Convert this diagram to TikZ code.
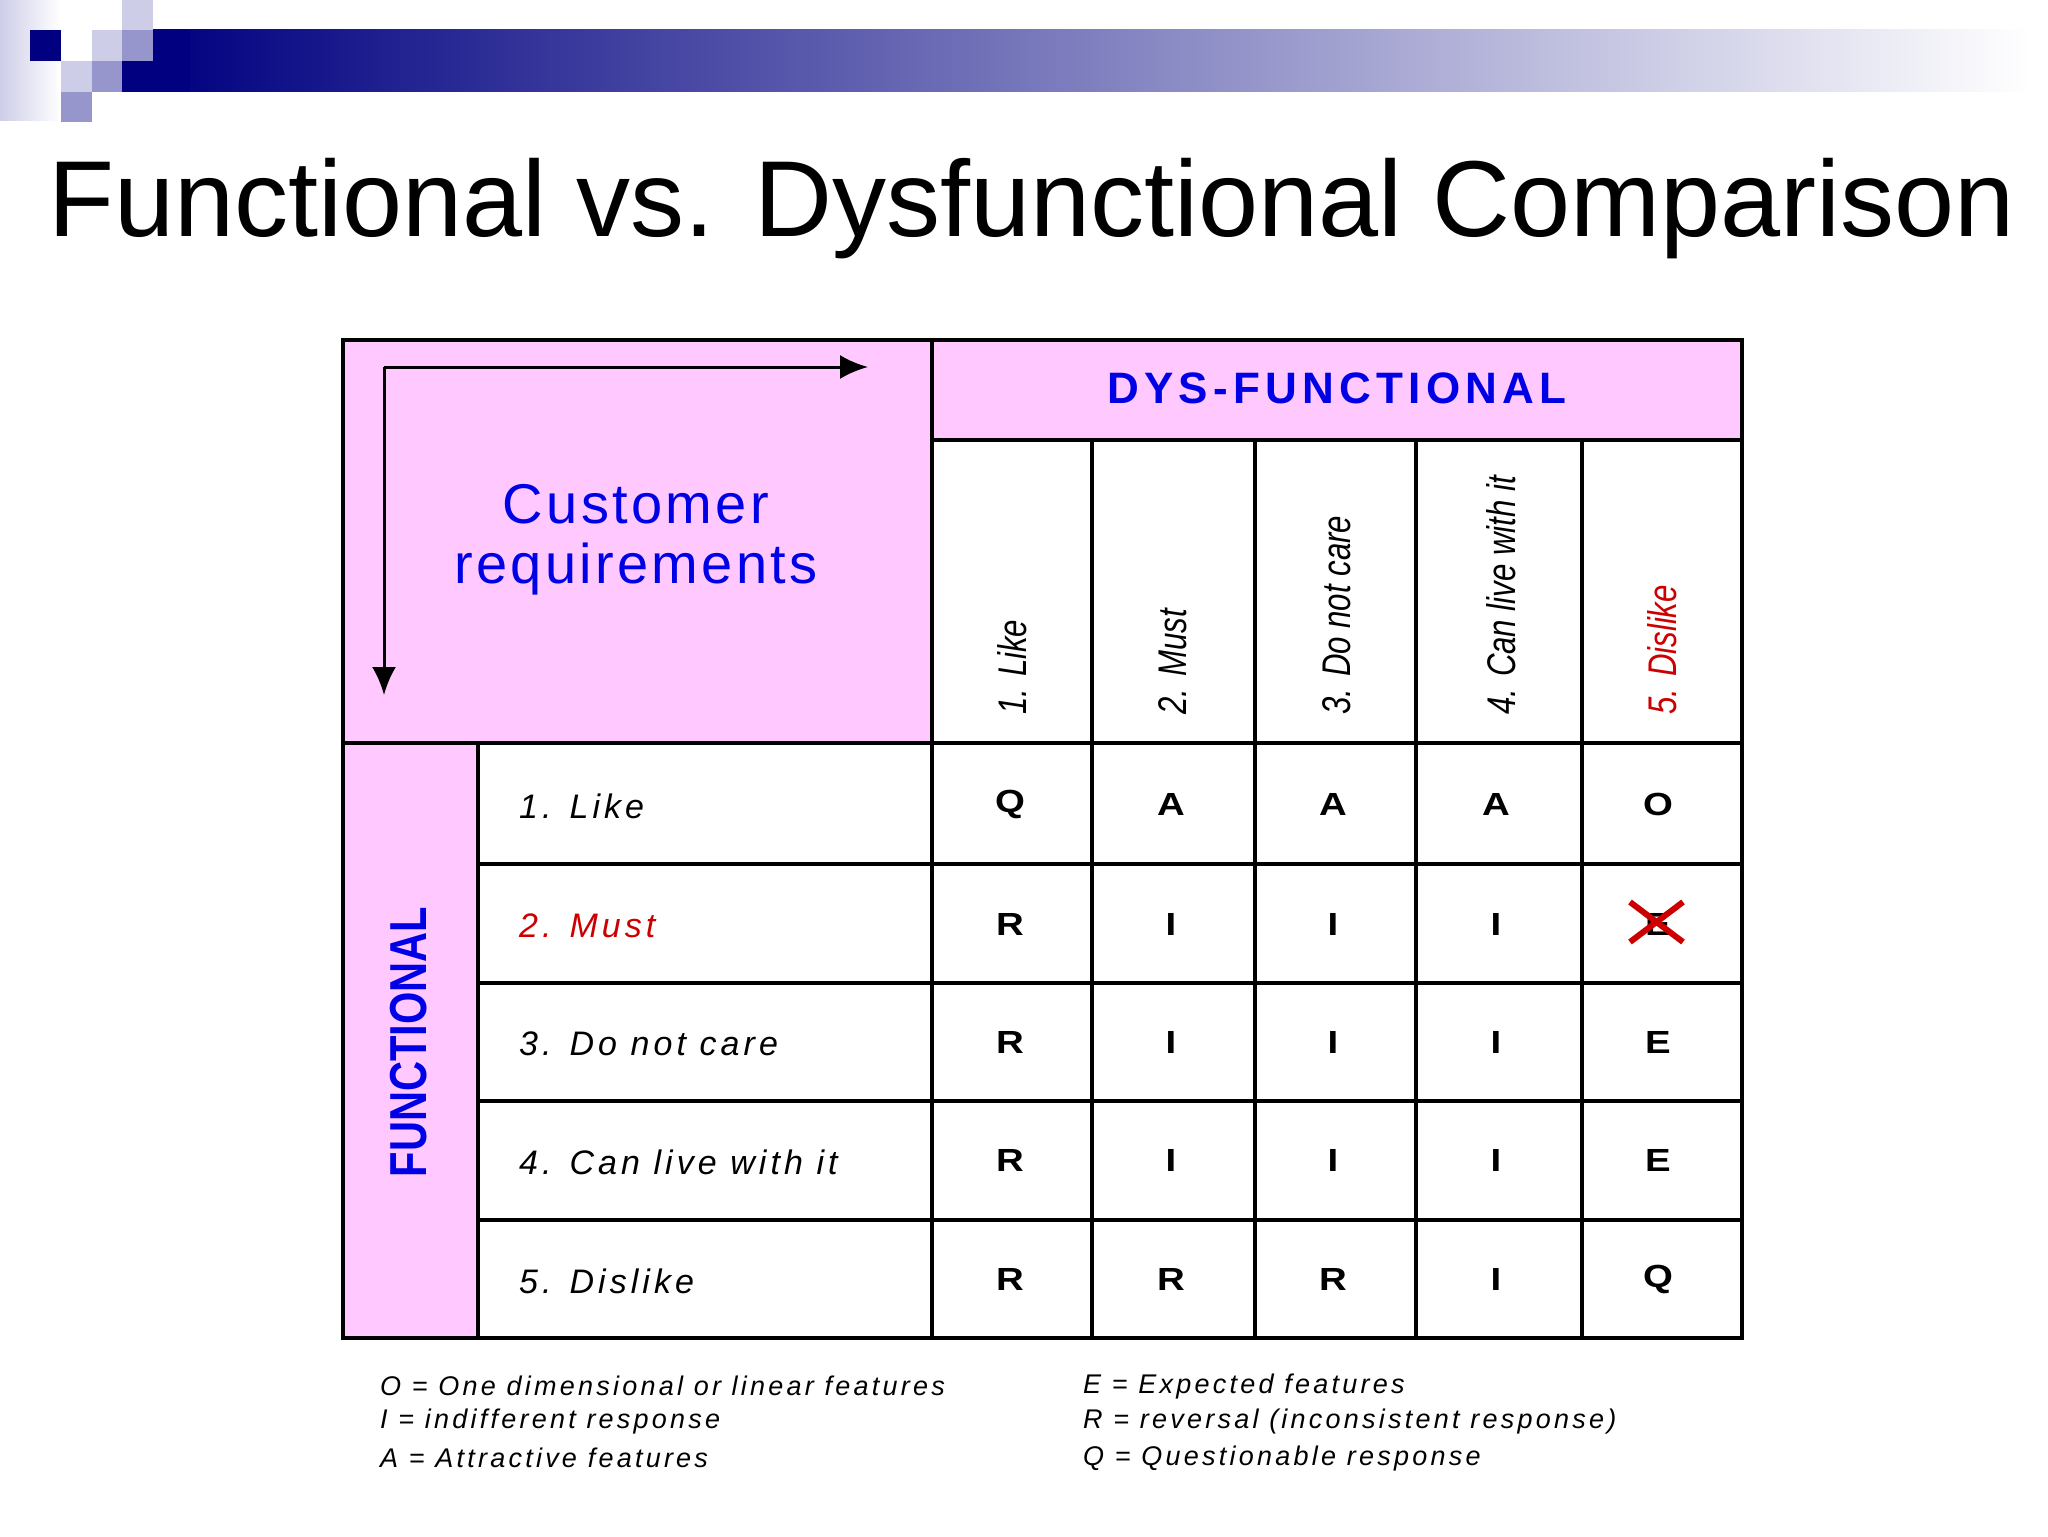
\documentclass[tikz,border=0pt]{standalone}
\usepackage{fontspec}
\setmainfont{Liberation Sans}
\usetikzlibrary{arrows.meta}
\begin{document}
\begin{tikzpicture}[x=0.5pt,y=-0.5pt,
  grid/.style={line width=2pt,draw=black},
  cell/.style={font=\fontsize{16}{16}\selectfont\bfseries,xscale=1.2},
  rowlab/.style={anchor=west,font=\fontsize{17}{17}\selectfont\itshape},
  colhd/.style={rotate=90,anchor=west,font=\fontsize{20}{20}\selectfont\itshape,xscale=0.78},
  legend/.style={anchor=west,font=\fontsize{13.5}{13.5}\selectfont\itshape}]
\definecolor{pinkbg}{RGB}{255,200,255}
\definecolor{navy}{RGB}{0,0,128}
\definecolor{midv}{RGB}{150,150,205}
\definecolor{lightv}{RGB}{205,205,232}
\definecolor{req}{RGB}{0,0,230}
\definecolor{redt}{RGB}{204,0,0}
\useasboundingbox (0,0) rectangle (2048,1536);
% logo
\shade[left color=lightv,right color=white] (0,0) rectangle (60,120);
\shade[left color=navy,right color=white] (153,30) rectangle (2030,92);
\fill[navy] (30,30) rectangle (61,61);
\fill[lightv] (122,0) rectangle (153,30);
\fill[lightv] (92,30) rectangle (122,61);
\fill[midv] (122,30) rectangle (153,61);
\fill[lightv] (61,61) rectangle (92,92);
\fill[midv] (92,61) rectangle (122,92);
\fill[navy] (122,61) rectangle (153,92);
\fill[navy] (153,30) rectangle (190,92);
\fill[midv] (61,92) rectangle (92,122);
% title
\node[anchor=base west,inner sep=0,font=\fontsize{54}{54}\selectfont] (title) at (48,236) {Functional vs. Dysfunctional Comparison};
% pink areas
\fill[pinkbg] (343,340) rectangle (932,743);
\fill[pinkbg] (932,340) rectangle (1742,440);
\fill[pinkbg] (343,743) rectangle (478,1338);
% grid
\draw[grid] (343,340) rectangle (1742,1338);
\draw[grid] (932,340) -- (932,1338);
\draw[grid] (932,440) -- (1742,440);
\draw[grid] (343,743) -- (1742,743);
\draw[grid] (478,743) -- (478,1338);
\foreach \x in {1092,1255,1416,1582} \draw[grid] (\x,440) -- (\x,1338);
\foreach \y in {864,983,1101,1220} \draw[grid] (478,\y) -- (1742,\y);
% arrows
\coordinate (ac) at (384,367);
\coordinate (ad) at (384,695);
\coordinate (ar) at (868,367);
\draw[line width=1.5pt,-{Latex[length=14pt,width=12pt]}] (ac) -- (ar);
\draw[line width=1.5pt,-{Latex[length=14pt,width=12pt]}] (ac) -- (ad);
% headers
\node[font=\fontsize{28}{28}\selectfont,text=req,align=center] (cr) at (636,540) {\addfontfeature{LetterSpace=6}Customer\\[2pt]\addfontfeature{LetterSpace=6}requirements};
\node[font=\fontsize{22}{22}\selectfont\bfseries,text=req] (dys) at (1337,388) {\addfontfeature{LetterSpace=12}DYS-FUNCTIONAL};
\node[rotate=90,font=\fontsize{26}{26}\selectfont\bfseries,text=req,xscale=0.8] (fun) at (409,1042) {FUNCTIONAL};
\node[colhd] (c1) at (1012,720) {1. Like};
\node[colhd] (c2) at (1173,720) {2. Must};
\node[colhd] (c3) at (1337,720) {3. Do not care};
\node[colhd] (c4) at (1501,720) {4. Can live with it};
\node[colhd,text=redt] (c5) at (1662,720) {5. Dislike};
\node[rowlab] (r1) at (512,806) {\addfontfeature{LetterSpace=12}1. Like};
\node[rowlab,text=redt] (r2) at (512,926) {\addfontfeature{LetterSpace=12}2. Must};
\node[rowlab] (r3) at (512,1044) {\addfontfeature{LetterSpace=12}3. Do not care};
\node[rowlab] (r4) at (512,1162) {\addfontfeature{LetterSpace=12}4. Can live with it};
\node[rowlab] (r5) at (512,1281) {\addfontfeature{LetterSpace=12}5. Dislike};
\foreach \r/\y/\a/\b/\c/\d/\e in {1/804/Q/A/A/A/O,2/924/R/I/I/I/E,3/1042/R/I/I/I/E,4/1160/R/I/I/I/E,5/1279/R/R/R/I/Q}{
  \node[cell] (m\r a) at (1010,\y) {\a};
  \node[cell] (m\r b) at (1171,\y) {\b};
  \node[cell] (m\r c) at (1333,\y) {\c};
  \node[cell] (m\r d) at (1496,\y) {\d};
  \node[cell] (m\r e) at (1658,\y) {\e};
}
\draw[redt,line width=3pt] (1630,902) -- (1683,942) (1630,942) -- (1683,902);
% legend
\node[legend] (l1) at (373,1386) {\addfontfeature{LetterSpace=12}O = One dimensional or linear features};
\node[legend] (l2) at (373,1421) {\addfontfeature{LetterSpace=12}I = indifferent response};
\node[legend] (l3) at (373,1458) {\addfontfeature{LetterSpace=12}A = Attractive features};
\node[legend] (l4) at (1076,1386) {\addfontfeature{LetterSpace=12}E = Expected features};
\node[legend] (l5) at (1076,1421) {\addfontfeature{LetterSpace=12}R = reversal (inconsistent response)};
\node[legend] (l6) at (1076,1458) {\addfontfeature{LetterSpace=12}Q = Questionable response};
\end{tikzpicture}
\end{document}
